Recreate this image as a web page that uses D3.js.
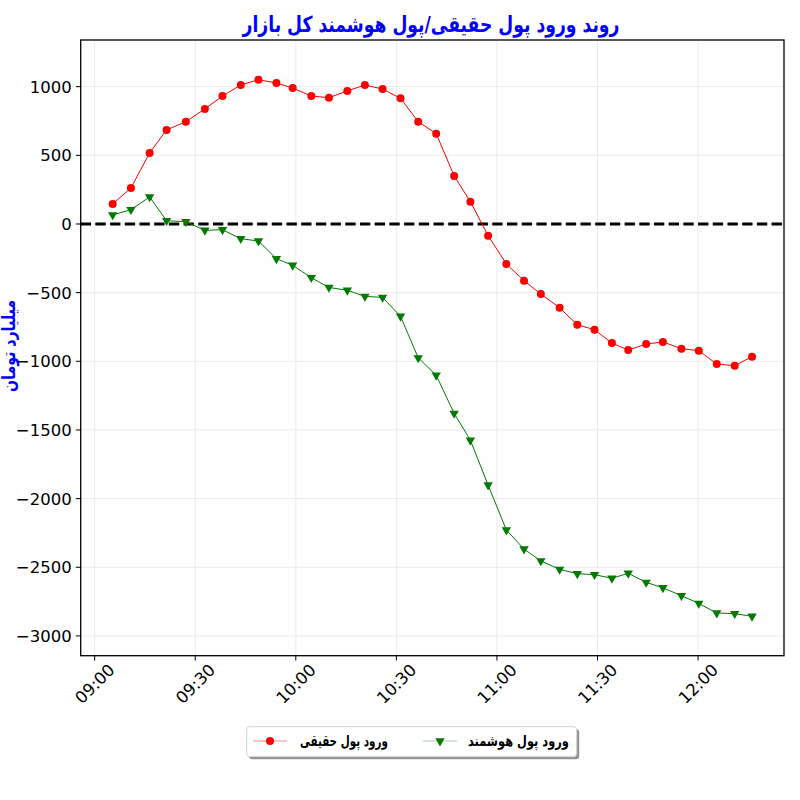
<!DOCTYPE html>
<html><head><meta charset="utf-8">
<script src="https://cdn.jsdelivr.net/npm/d3@7"></script>
<style>body{margin:0;background:#fff}svg{display:block}</style>
</head><body>
<svg id="c" width="800" height="800"></svg>
<script>
const times = ["09:05:22","09:10:49","09:16:23","09:21:27","09:27:12","09:32:52","09:38:08","09:43:35","09:48:51","09:54:13","09:59:04","10:04:38","10:09:53","10:15:22","10:20:37","10:25:53","10:31:14","10:36:31","10:41:53","10:47:14","10:52:05","10:57:22","11:02:49","11:08:05","11:13:06","11:18:42","11:23:58","11:29:07","11:34:18","11:39:10","11:44:31","11:49:30","11:55:02","12:00:13","12:05:35","12:10:56","12:16:06"];
const realMoney = [146,262,517,685,745,838,932,1012,1051,1027,990,932,920,969,1012,983,915,745,658,350,162,-85,-291,-413,-510,-610,-734,-770,-867,-918,-874,-859,-908,-923,-1020,-1032,-966];
const smartMoney = [66,104,197,24,17,-46,-42,-107,-124,-253,-301,-391,-462,-483,-527,-535,-672,-975,-1102,-1379,-1575,-1901,-2229,-2367,-2454,-2515,-2547,-2554,-2580,-2544,-2610,-2649,-2707,-2763,-2833,-2838,-2857];
const yTicks = [1000,500,0,-500,-1000,-1500,-2000,-2500,-3000];
const titleText = "روند ورود پول حقیقی/پول هوشمند کل بازار";
const yLabel = "میلیارد تومان";
const seriesNames = ["ورود پول حقیقی","ورود پول هوشمند"];

const parse = d3.timeParse("%H:%M:%S");
const tDates = times.map(parse);
const L=80.7, R=784, T=40, B=655.7;
const svg = d3.select("#c");
const ext = d3.extent(tDates);
const pad = (ext[1]-ext[0])*0.05;
const x = d3.scaleTime().domain([new Date(+ext[0]-pad), new Date(+ext[1]+pad)]).range([L,R]);
const y = d3.scaleLinear().domain([-3144,1340]).range([B,T]);
const xTicks = d3.timeMinute.every(30).range(parse("09:00:00"), parse("12:10:00"));
const fmt = d3.timeFormat("%H:%M");
const AR = "'DejaVu Sans', sans-serif";

// narrow text horizontally to a target width (keeps glyph height)
function fitX(sel, base, target){
  const w = sel.node().getComputedTextLength();
  const s = w>0 ? target/w : 1;
  sel.attr("transform", base + ` scale(${s},1)`);
  return sel;
}

// grid
const g = svg.append("g");
g.selectAll(".gx").data(xTicks).enter().append("line")
 .attr("x1",d=>x(d)).attr("x2",d=>x(d)).attr("y1",T).attr("y2",B)
 .attr("stroke","#ebebeb").attr("stroke-width",1);
g.selectAll(".gy").data(yTicks).enter().append("line")
 .attr("x1",L).attr("x2",R).attr("y1",d=>y(d)).attr("y2",d=>y(d))
 .attr("stroke","#ebebeb").attr("stroke-width",1);

// zero line
svg.append("line").attr("x1",L).attr("x2",R).attr("y1",y(0)).attr("y2",y(0))
 .attr("stroke","#000").attr("stroke-width",2.8).attr("stroke-dasharray","10.3,4.4");

// series
const line = d3.line().x((d,i)=>x(tDates[i])).y(d=>y(d));
svg.append("path").datum(realMoney).attr("d",line).attr("fill","none").attr("stroke","#ff0000").attr("stroke-width",1);
svg.append("path").datum(smartMoney).attr("d",line).attr("fill","none").attr("stroke","#007a00").attr("stroke-width",1);
svg.selectAll(".rm").data(realMoney).enter().append("circle")
 .attr("cx",(d,i)=>x(tDates[i])).attr("cy",d=>y(d)).attr("r",4).attr("fill","#ff0000");
const tri = d3.symbol().type(d3.symbolTriangle).size(38);
svg.selectAll(".sm").data(smartMoney).enter().append("path")
 .attr("d",tri).attr("transform",(d,i)=>`translate(${x(tDates[i])},${y(d)}) rotate(180)`).attr("fill","#007a00");

// frame
svg.append("rect").attr("x",L).attr("y",T).attr("width",R-L).attr("height",B-T)
 .attr("fill","none").attr("stroke","#000").attr("stroke-width",1.3);

// y axis
const ya = svg.append("g");
ya.selectAll("line").data(yTicks).enter().append("line")
 .attr("x1",L-4.9).attr("x2",L).attr("y1",d=>y(d)).attr("y2",d=>y(d)).attr("stroke","#000").attr("stroke-width",1);
ya.selectAll("text").data(yTicks).enter().append("text")
 .attr("x",L-9).attr("y",d=>y(d)).attr("dy","0.36em").attr("text-anchor","end")
 .attr("font-family","DejaVu Sans").attr("font-size",16.5).attr("fill","#000")
 .text(d=>d<0?"\u2212"+Math.abs(d):String(d));

// x axis
const xa = svg.append("g");
xa.selectAll("line").data(xTicks).enter().append("line")
 .attr("x1",d=>x(d)).attr("x2",d=>x(d)).attr("y1",B).attr("y2",B+4.9).attr("stroke","#000").attr("stroke-width",1);
xa.selectAll("text").data(xTicks).enter().append("text")
 .attr("transform",d=>`translate(${x(d)},${B+28}) rotate(-45)`)
 .attr("text-anchor","middle").attr("dy","0.36em")
 .attr("font-family","DejaVu Sans").attr("font-size",16.5).attr("fill","#000")
 .text(d=>fmt(d));

// title
const tt = svg.append("text").attr("x",0).attr("y",0).attr("text-anchor","middle")
 .attr("font-family",AR).attr("font-weight","bold").attr("font-size",22).attr("fill","#0000ff")
 .text(titleText);
fitX(tt,"translate(431,32)",377);

// y label
const yl = svg.append("text").attr("x",0).attr("y",0).attr("text-anchor","middle")
 .attr("font-family",AR).attr("font-weight","bold").attr("font-size",18).attr("fill","#0000ff")
 .attr("dy","0.35em").text(yLabel);
fitX(yl,"translate(9,346) rotate(-90)",92);

// legend
const lg = svg.append("g");
lg.append("rect").attr("x",249.2).attr("y",729.2).attr("width",330).attr("height",30).attr("rx",3).attr("fill","#777").attr("opacity",0.8);
lg.append("rect").attr("x",246.7).attr("y",726.7).attr("width",330).attr("height",30).attr("rx",3).attr("fill","#fff").attr("stroke","#d0d0d0").attr("stroke-width",1);
const entries = [{name:seriesNames[0],c:"#ff0000",lc:"#ffb0b0",m:"c",x0:253,tx:300,tw:88},{name:seriesNames[1],c:"#007a00",lc:"#c8dcc8",m:"t",x0:423,tx:468,tw:101}];
entries.forEach(e=>{
  lg.append("line").attr("x1",e.x0).attr("x2",e.x0+34).attr("y1",741).attr("y2",741).attr("stroke",e.lc).attr("stroke-width",1.5);
  if(e.m==="c") lg.append("circle").attr("cx",e.x0+17).attr("cy",741).attr("r",4).attr("fill",e.c);
  else lg.append("path").attr("d",tri).attr("transform",`translate(${e.x0+17},741) rotate(180)`).attr("fill",e.c);
  const t = lg.append("text").attr("x",0).attr("y",0).attr("dy","0.35em").attr("text-anchor","start")
   .attr("font-family",AR).attr("font-weight","bold").attr("font-size",15).attr("fill","#000")
   .text(e.name);
  fitX(t,`translate(${e.tx},741)`,e.tw);
});
</script>
</body></html>
